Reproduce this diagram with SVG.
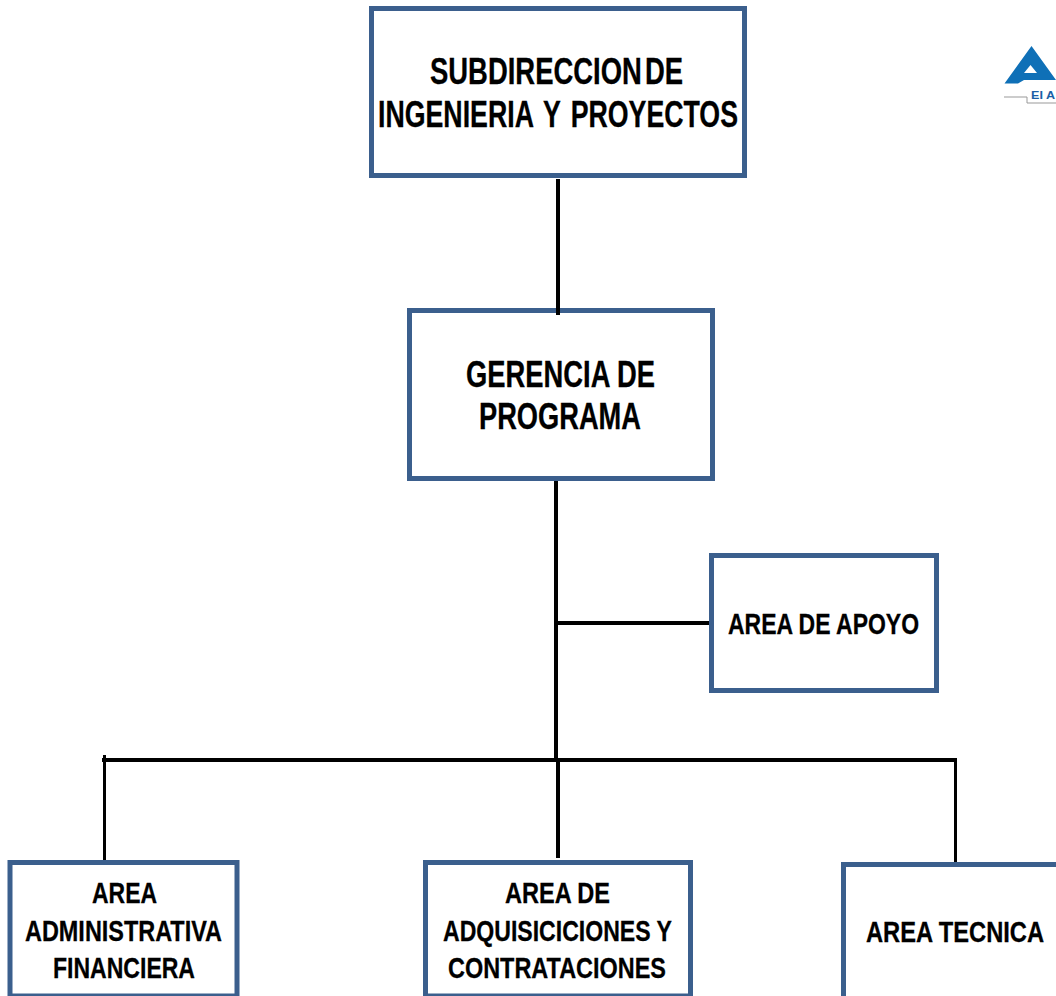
<svg xmlns="http://www.w3.org/2000/svg" width="1056" height="996" viewBox="0 0 1056 996">
<style>
.box{fill:#fff;stroke:#3b5f8d;stroke-width:5}
.c{stroke:#000;fill:none}
.t{font-family:"Liberation Sans",Arial,sans-serif;font-weight:700;fill:#000;stroke:#000;stroke-width:.3}
.l{font-size:36px}
.s{font-size:30px}
</style>
<rect width="1056" height="996" fill="#fff"/>
<g id="subdireccion">
<rect class="box" x="371.500" y="8.500" width="373" height="167"/>
<text class="t l" x="430" y="84" textLength="253" lengthAdjust="spacingAndGlyphs" word-spacing="-6">SUBDIRECCION DE</text>
<text class="t l" x="378" y="127" textLength="360" lengthAdjust="spacingAndGlyphs" word-spacing="4">INGENIERIA Y PROYECTOS</text>
</g>
<g id="gerencia">
<rect class="box" x="409.500" y="310.500" width="303" height="168"/>
<text class="t l" x="466" y="387" textLength="189" lengthAdjust="spacingAndGlyphs">GERENCIA DE</text>
<text class="t l" x="479" y="429" textLength="162" lengthAdjust="spacingAndGlyphs">PROGRAMA</text>
</g>
<g id="apoyo">
<rect class="box" x="711.500" y="555.500" width="225" height="135"/>
<text class="t s" x="728" y="634" textLength="191" lengthAdjust="spacingAndGlyphs">AREA DE APOYO</text>
</g>
<g id="administrativa">
<rect class="box" x="10" y="862.500" width="227" height="133.500"/>
<text class="t s" x="92" y="903" textLength="65" lengthAdjust="spacingAndGlyphs">AREA</text>
<text class="t s" x="25" y="941" textLength="197" lengthAdjust="spacingAndGlyphs">ADMINISTRATIVA</text>
<text class="t s" x="53" y="978" textLength="142" lengthAdjust="spacingAndGlyphs">FINANCIERA</text>
</g>
<g id="adquisiciones">
<rect class="box" x="425.500" y="862.500" width="265" height="133.500"/>
<text class="t s" x="505" y="903" textLength="105" lengthAdjust="spacingAndGlyphs">AREA DE</text>
<text class="t s" x="443" y="941" textLength="229" lengthAdjust="spacingAndGlyphs">ADQUISICICIONES Y</text>
<text class="t s" x="448" y="978" textLength="218" lengthAdjust="spacingAndGlyphs">CONTRATACIONES</text>
</g>
<g id="tecnica">
<path class="box" d="M843.500 1000V864.500H1060"/>
<text class="t s" transform="translate(866 942) scale(.79 1)" x="0" y="0">AREA TECNICA</text>
</g>
<g id="connectors">
<line class="c" x1="558" y1="179" x2="558" y2="315" stroke-width="4"/>
<line class="c" x1="556" y1="481" x2="556" y2="762" stroke-width="4"/>
<line class="c" x1="556" y1="623" x2="709" y2="623" stroke-width="4"/>
<line class="c" x1="102" y1="760" x2="957" y2="760" stroke-width="4"/>
<line class="c" x1="104.500" y1="755" x2="104.500" y2="860" stroke-width="3"/>
<line class="c" x1="558" y1="760" x2="558" y2="858" stroke-width="4"/>
<line class="c" x1="955.500" y1="758" x2="955.500" y2="862" stroke-width="3"/>
</g>
<g id="logo">
<path d="M1031.500 46L1004.500 83.500H1018L1024 80H1056V80Z" fill="#0f70b7"/>
<path d="M1030.500 65L1024 73H1037Z" fill="#fff"/>
<path d="M1004 97H1027V103H1056" fill="none" stroke="#999" stroke-width="1"/>
<text x="1031" y="98.500" textLength="24" lengthAdjust="spacingAndGlyphs" font-family="'Liberation Sans',Arial,sans-serif" font-weight="700" font-size="11" fill="#1b5fa6">EI A</text>
</g>
</svg>
